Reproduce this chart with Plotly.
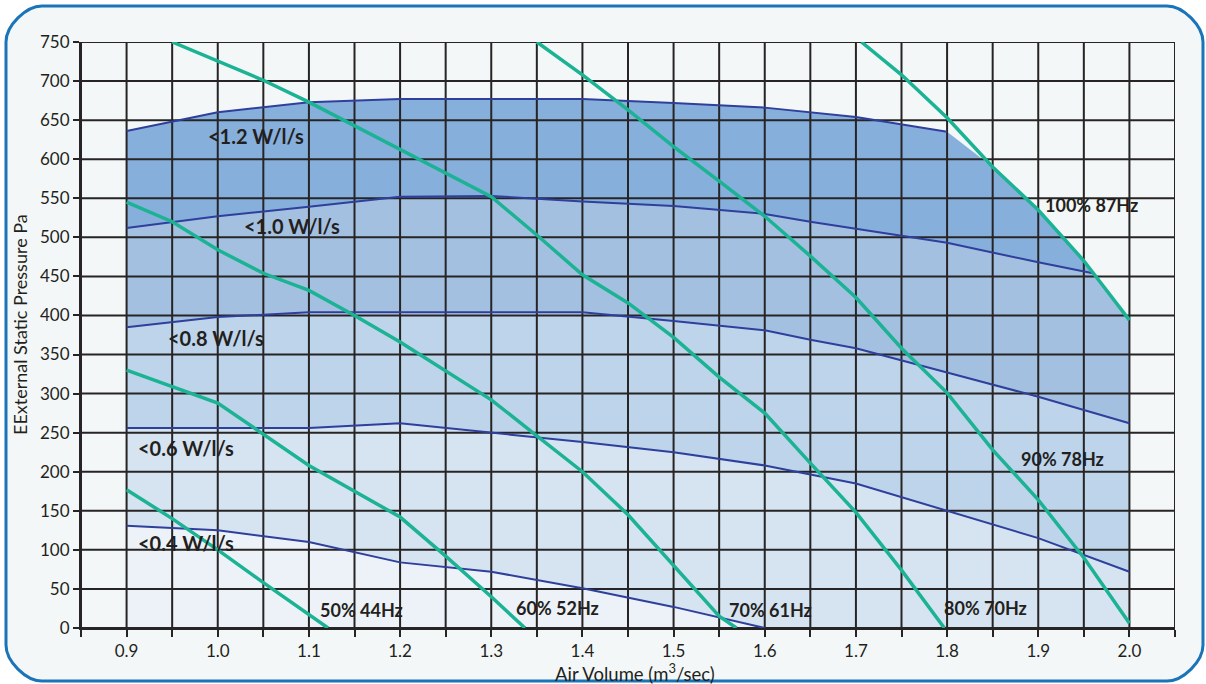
import plotly.graph_objects as go

# ---------------- data ----------------
# power-consumption boundary curves (W/l/s)
C12_X = [0.9, 0.95, 1.0, 1.1, 1.2, 1.4, 1.5, 1.6, 1.7, 1.8]
C12_Y = [636, 648, 660, 673, 677, 677, 672, 666, 654, 635]
C10_X = [0.9, 1.0, 1.1, 1.2, 1.3, 1.4, 1.5, 1.6, 1.65, 1.7, 1.8, 1.9, 1.96]
C10_Y = [512, 527, 539, 552, 553, 546, 540, 530, 520, 511, 493, 468, 454]
C08_X = [0.9, 1.0, 1.1, 1.2, 1.4, 1.5, 1.6, 1.65, 1.7, 1.8, 1.9, 2.0]
C08_Y = [385, 398, 404, 404, 404, 393, 381, 369, 358, 327, 296, 262]
C06_X = [0.9, 1.1, 1.2, 1.3, 1.4, 1.5, 1.6, 1.7, 1.8, 1.9, 2.0]
C06_Y = [256, 256, 262, 250, 238, 225, 208, 185, 150, 115, 72]
C04_X = [0.9, 1.0, 1.1, 1.2, 1.3, 1.4, 1.5, 1.6]
C04_Y = [131, 125, 110, 84, 72, 51, 27, 0]

# fan speed curves
F50_X = [0.9, 0.95, 1.0, 1.05, 1.121]
F50_Y = [177, 140, 100, 58, 0]
F60_X = [0.9, 1.0, 1.1, 1.2, 1.25, 1.3, 1.337]
F60_Y = [330, 288, 208, 142, 92, 40, 0]
F70_X = [0.9, 0.95, 1.0, 1.05, 1.1, 1.15, 1.2, 1.3, 1.35, 1.4, 1.45, 1.5, 1.55, 1.569]
F70_Y = [545, 520, 484, 454, 432, 400, 366, 292, 246, 200, 145, 80, 15, 0]
F80_X = [0.95, 1.0, 1.05, 1.1, 1.2, 1.25, 1.3, 1.35, 1.4, 1.45, 1.5, 1.55, 1.6, 1.65, 1.7, 1.75, 1.797]
F80_Y = [750, 725, 701, 673, 612, 582, 552, 503, 452, 416, 372, 321, 275, 211, 148, 74, 0]
F90_X = [1.35, 1.4, 1.45, 1.5, 1.55, 1.6, 1.65, 1.7, 1.75, 1.8, 1.85, 1.9, 1.95, 2.0]
F90_Y = [750, 708, 663, 616, 572, 527, 476, 423, 358, 301, 228, 164, 90, 6]
F100_X = [1.706, 1.75, 1.8, 1.85, 1.9, 1.95, 2.0]
F100_Y = [750, 708, 653, 590, 535, 470, 394]

BAND_LABELS = ["<1.2 W/l/s", "<1.0 W/l/s", "<0.8 W/l/s", "<0.6 W/l/s", "<0.4 W/l/s"]
BAND_LABEL_X = [1.042, 1.081, 0.998, 0.965, 0.965]
BAND_LABEL_Y = [630, 514, 371, 230, 109]
FAN_LABELS = ["50% 44Hz", "60% 52Hz", "70% 61Hz", "80% 70Hz", "90% 78Hz", "100% 87Hz"]
FAN_LABEL_X = [1.158, 1.373, 1.606, 1.842, 1.927, 1.958]
FAN_LABEL_Y = [23, 25, 23, 25, 216, 541]

X_TICKS = [0.9, 1.0, 1.1, 1.2, 1.3, 1.4, 1.5, 1.6, 1.7, 1.8, 1.9, 2.0]
X_GRID = [0.85, 0.9, 0.95, 1.0, 1.05, 1.1, 1.15, 1.2, 1.25, 1.3, 1.35, 1.4, 1.45,
          1.5, 1.55, 1.6, 1.65, 1.7, 1.75, 1.8, 1.85, 1.9, 1.95, 2.0, 2.05]
Y_GRID = [0, 50, 100, 150, 200, 250, 300, 350, 400, 450, 500, 550, 600, 650, 700, 750]

# ---------------- style ----------------
W, H = 1206, 684
ML, MR, MT, MB = 81, 31, 42, 56
PW, PH = W - ML - MR, H - MT - MB
TXT = "#231f20"
BLUE = "#2e3f9c"
GREEN = "#1bb394"
BAND_COLORS = ["#87afdc", "#a4c0e0", "#bdd4ea", "#d6e3f0", "#edf2f8"]
FONT = "Lato"


def pu(px):
    return (px - ML) / PW


def pv(py):
    return (H - MB - py) / PH


fig = go.Figure()

# ---------- band polygons built from curves ----------
b12_x = C12_X + [x for x in F100_X if C12_X[-1] < x < C10_X[-1]] + C10_X[::-1]
b12_y = C12_Y + [y for x, y in zip(F100_X, F100_Y) if C12_X[-1] < x < C10_X[-1]] + C10_Y[::-1]
b10_x = C10_X + [x for x in F100_X if x > C10_X[-1]] + C08_X[::-1]
b10_y = C10_Y + [y for x, y in zip(F100_X, F100_Y) if x > C10_X[-1]] + C08_Y[::-1]
b08_x = C08_X + C06_X[::-1]
b08_y = C08_Y + C06_Y[::-1]
b06_x = C06_X + [C06_X[-1]] + C04_X[::-1]
b06_y = C06_Y + [0] + C04_Y[::-1]
b04_x = C04_X + [C04_X[0]]
b04_y = C04_Y + [0]

for bx, by, col in zip([b12_x, b10_x, b08_x, b06_x, b04_x],
                       [b12_y, b10_y, b08_y, b06_y, b04_y], BAND_COLORS):
    fig.add_trace(go.Scatter(x=bx, y=by, fill="toself", fillcolor=col,
                             mode="none", hoverinfo="skip", showlegend=False))

# ---------- grid drawn over the fills ----------
gx, gy = [], []
for xv in X_GRID:
    gx += [xv, xv, None]
    gy += [Y_GRID[0], Y_GRID[-1], None]
for yv in Y_GRID:
    gx += [X_GRID[0], X_GRID[-1], None]
    gy += [yv, yv, None]
fig.add_trace(go.Scatter(x=gx, y=gy, mode="lines", line=dict(color="#262424", width=2),
                         hoverinfo="skip", showlegend=False, connectgaps=False))

# ---------- power curves ----------
for cx, cy in [(C12_X, C12_Y), (C10_X, C10_Y), (C08_X, C08_Y), (C06_X, C06_Y), (C04_X, C04_Y)]:
    fig.add_trace(go.Scatter(x=cx, y=cy, mode="lines", line=dict(color=BLUE, width=2),
                             hoverinfo="skip", showlegend=False))

# ---------- fan curves ----------
for fx, fy in [(F50_X, F50_Y), (F60_X, F60_Y), (F70_X, F70_Y), (F80_X, F80_Y),
               (F90_X, F90_Y), (F100_X, F100_Y)]:
    fig.add_trace(go.Scatter(x=fx, y=fy, mode="lines", line=dict(color=GREEN, width=3.5),
                             hoverinfo="skip", showlegend=False))

# ---------- labels ----------
for t, x, y in zip(BAND_LABELS + FAN_LABELS, BAND_LABEL_X + FAN_LABEL_X, BAND_LABEL_Y + FAN_LABEL_Y):
    big = t.startswith("<")
    fig.add_annotation(x=x, y=y, text="<b>%s</b>" % t, showarrow=False,
                       xanchor="center", yanchor="middle",
                       font=dict(family=FONT, size=20 if big else 18, color=TXT))

# axis titles
fig.add_annotation(xref="paper", yref="paper", x=pu(635), y=pv(672), text="Air Volume (m<sup>3</sup>/sec)",
                   xanchor="center", yanchor="middle",
                   showarrow=False, font=dict(family=FONT, size=18.5, color=TXT))
fig.add_annotation(xref="paper", yref="paper", x=pu(20), y=pv(325), text="EExternal Static Pressure Pa",
                   xanchor="center", yanchor="middle",
                   textangle=-90, showarrow=False, font=dict(family=FONT, size=18, color=TXT))

# ---------- rounded panel ----------
L, R, T, B, r = 6, 1203, 6, 681, 36
k = 0.45 * r


def P(px, py):
    return "%.5f,%.5f" % (pu(px), pv(py))


path = ("M " + P(L + r, T) + " L " + P(R - r, T) +
        " C " + P(R - r + k, T) + " " + P(R, T + r - k) + " " + P(R, T + r) +
        " L " + P(R, B - r) +
        " C " + P(R, B - r + k) + " " + P(R - r + k, B) + " " + P(R - r, B) +
        " L " + P(L + r, B) +
        " C " + P(L + r - k, B) + " " + P(L, B - r + k) + " " + P(L, B - r) +
        " L " + P(L, T + r) +
        " C " + P(L, T + r - k) + " " + P(L + r - k, T) + " " + P(L + r, T) + " Z")
fig.add_shape(type="path", xref="paper", yref="paper", path=path, layer="below",
              fillcolor="#f4f7f7", line=dict(color="#1a74ba", width=3))

fig.update_layout(
    width=W, height=H,
    margin=dict(l=ML, r=MR, t=MT, b=MB, pad=0),
    paper_bgcolor="white", plot_bgcolor="rgba(0,0,0,0)",
    showlegend=False,
    font=dict(family=FONT, color=TXT),
    xaxis=dict(range=[X_GRID[0], X_GRID[-1]], tickvals=X_TICKS,
               ticktext=["%.1f" % v for v in X_TICKS],
               showgrid=False, zeroline=False, showline=True, linecolor="#262424", linewidth=2,
               ticks="outside", ticklen=7, tickwidth=2, tickcolor="#262424",
               minor=dict(tickvals=[v for v in X_GRID if v not in X_TICKS], ticks="outside",
                          ticklen=7, tickwidth=2, tickcolor="#262424", showgrid=False),
               tickfont=dict(family=FONT, size=17, color=TXT), fixedrange=True),
    yaxis=dict(range=[Y_GRID[0], Y_GRID[-1]], tickvals=Y_GRID,
               showgrid=False, zeroline=False, showline=True, linecolor="#262424", linewidth=2,
               ticks="outside", ticklen=6, tickwidth=2, tickcolor="#262424",
               tickfont=dict(family=FONT, size=17, color=TXT), fixedrange=True),
)

fig.write_html("out.html", config={"displayModeBar": False},
               post_script="document.body.style.margin='0';document.body.style.overflow='hidden';")
